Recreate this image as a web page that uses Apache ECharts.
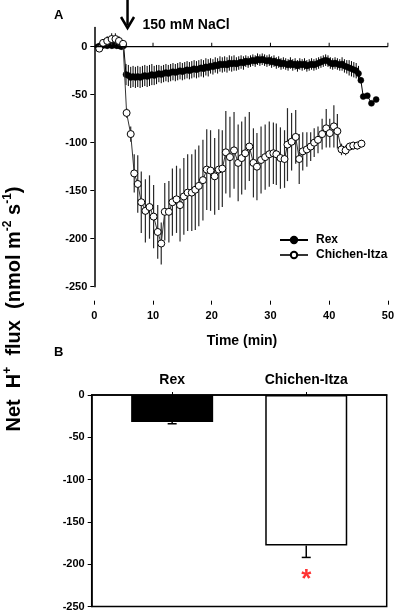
<!DOCTYPE html>
<html>
<head>
<meta charset="utf-8">
<script src="https://cdn.jsdelivr.net/npm/echarts@6/dist/echarts.min.js"></script>
<style>html,body{margin:0;padding:0;background:#fff;}#c{width:397px;height:612px;}</style>
</head>
<body>
<div id="c"></div>
<script>
// ---------- Panel A data ----------
const timeTicks = [0, 10, 20, 30, 40, 50];
const fluxTicksA = [-250, -200, -150, -100, -50, 0];

const rexTime = [0.6,1.0,1.4,1.8,2.2,2.6,3.0,3.4,3.8,4.2,4.6,5.0,5.4,
 5.8,6.2,6.6,7.0,7.4,7.8,8.2,8.6,9.0,9.4,9.8,10.2,10.6,11.0,11.4,11.8,12.2,12.6,13.0,13.4,13.8,14.2,14.6,15.0,15.4,15.8,
 16.2,16.6,17.0,17.4,17.8,18.2,18.6,19.0,19.4,19.8,20.2,20.6,21.0,21.4,21.8,22.2,22.6,23.0,23.4,23.8,24.2,24.6,25.0,25.4,
 25.8,26.2,26.6,27.0,27.4,27.8,28.2,28.6,29.0,29.4,29.8,30.2,30.6,31.0,31.4,31.8,32.2,32.6,33.0,33.4,33.8,34.2,34.6,35.0,
 35.4,35.8,36.2,36.6,37.0,37.4,37.8,38.2,38.6,39.0,39.4,39.8,40.2,40.6,41.0,41.4,41.8,42.2,42.6,43.0,43.4,43.8,44.2,44.6,
 45.0,45.4,45.8,46.5,47.2,48.0];
const rexFlux = [0,1,1,2,1,2,1,2,1,1,0,1,-29,
 -30,-32,-31,-32,-31,-32,-31,-30,-31,-30,-29,-30,-29,-28,-29,-28,-27,-28,-27,-26,-27,-26,-25,-26,-25,-24,
 -25,-24,-23,-24,-23,-22,-23,-21,-22,-20,-21,-19,-20,-18,-19,-18,-19,-17,-18,-17,-18,-17,-16,-17,
 -15,-16,-15,-14,-15,-13,-14,-13,-14,-15,-14,-16,-15,-17,-16,-18,-17,-18,-19,-17,-19,-18,-20,-18,
 -19,-18,-20,-19,-18,-19,-18,-17,-16,-15,-14,-15,-17,-18,-17,-18,-19,-18,-20,-21,-22,-23,-24,-25,
 -28,-35,-52,-51,-59,-55];
const rexErr = [3,3,3,3,3,3,3,3,3,3,3,3,11,
 11,11,11,11,11,11,11,11,11,11,11,10,10,9,9,9,9,9,9,9,9,9,9,9,9,9,
 9,9,9,9,9,9,9,9,9,8,8,8,8,8,8,8,8,8,8,8,7,7,7,7,
 6,6,6,6,6,6,6,6,6,6,6,6,6,6,6,6,6,6,6,6,6,6,6,6,
 6,6,6,6,6,6,6,6,6,6,6,6,6,6,6,6,6,7,7,7,8,8,8,8,
 8,3,2,2,2,2];

const chiTime = [0.85,1.5,2.2,2.95,3.6,4.2,4.9,5.5,6.2,6.8,7.4,8.0,8.7,9.4,10.1,10.8,11.4,12.0,12.7,13.3,14.0,14.6,15.25,15.9,
 16.6,17.2,17.8,18.5,19.15,19.8,20.5,21.2,21.8,22.4,23.1,23.8,24.5,25.1,25.7,26.4,27.1,27.7,28.4,29.1,29.8,30.5,31.0,31.7,
 32.4,32.9,33.6,34.3,34.9,35.5,36.2,36.85,37.45,38.1,38.8,39.5,40.1,40.8,41.4,42.1,42.8,43.5,44.1,44.8,45.5];
const chiFlux = [-2,4,6,8,8,6,3,-69,-91,-132,-143,-162,-171,-167,-177,-193,-205,-172,-172,-162,-159,-165,-156,-152,
 -152,-149,-145,-139,-128,-129,-135,-128,-127,-110,-115,-108,-121,-116,-111,-104,-121,-125,-118,-115,-112,-111,-112,-116,
 -117,-102,-99,-94,-117,-109,-107,-104,-100,-97,-91,-85,-90,-83,-88,-107,-108,-104,-103,-103,-101];
const chiErr = [3,4,5,6,6,5,3,5,8,20,30,32,33,33,33,28,22,30,32,35,35,38,40,40,
 40,42,42,42,42,42,40,42,40,43,42,40,40,38,38,36,36,35,35,34,34,32,32,32,
 30,38,30,28,26,20,18,15,15,14,16,20,15,22,18,6,5,4,4,4,4];

// ---------- Panel B data ----------
const groups = ['Rex', 'Chichen-Itza'];
const meanFlux = [-32, -178];
const meanErr = [2, 14];
const fluxTicksB = [-250, -200, -150, -100, -50, 0];

const FONT = '"Liberation Sans", Arial, sans-serif';
const lbl = {fontFamily: FONT, fontWeight: 'bold', fontSize: 11, color: '#000'};

const rexData = rexTime.map((t, i) => [t, rexFlux[i]]);
const chiData = chiTime.map((t, i) => [t, chiFlux[i]]);
const rexErrData = rexTime.map((t, i) => [t, rexFlux[i] - rexErr[i], rexFlux[i] + rexErr[i]]);
const chiErrData = chiTime.map((t, i) => [t, chiFlux[i] - chiErr[i], chiFlux[i] + chiErr[i]]);

function errRender(color, w) {
  return function (params, api) {
    const p1 = api.coord([api.value(0), api.value(1)]);
    const p2 = api.coord([api.value(0), api.value(2)]);
    return {type: 'line', shape: {x1: p1[0], y1: p1[1], x2: p2[0], y2: p2[1]},
      style: {stroke: color, lineWidth: w}};
  };
}

const barPos = [3, 8]; // positions of the two groups on the panel-B x scale (0..11)
const barData = groups.map((g, i) => [barPos[i], meanFlux[i]]);
const barErrData = groups.map((g, i) => [barPos[i], meanFlux[i], meanFlux[i] - meanErr[i]]);

const option = {
  animation: false,
  grid: [
    {left: 94.3, right: 7.7, top: 27.5, bottom: 325.3},
    {left: 91.7, right: 10.3, top: 395, bottom: 5, show: true, borderColor: '#000', borderWidth: 1.5}
  ],
  xAxis: [
    {gridIndex: 0, type: 'value', min: 0, max: 50, interval: 10, position: 'bottom', offset: 14,
      axisLine: {show: false, onZero: false}, axisTick: {show: true, length: 4, lineStyle: {color: '#000', width: 1}},
      axisLabel: Object.assign({margin: 10}, lbl), splitLine: {show: false}},
    {gridIndex: 1, type: 'value', min: 0, max: 11, position: 'top',
      axisLine: {show: true, onZero: false, lineStyle: {color: '#000', width: 1.5}},
      axisTick: {show: true, length: 3, customValues: barPos, lineStyle: {color: '#000'}},
      axisLabel: Object.assign({}, lbl, {fontSize: 14, margin: 8, customValues: barPos,
        formatter: v => groups[barPos.indexOf(v)] || ''}),
      splitLine: {show: false}}
  ],
  yAxis: [
    {gridIndex: 0, type: 'value', min: -250, max: 20, interval: 50,
      axisLine: {show: true, onZero: false, lineStyle: {color: '#000', width: 1.5}},
      axisTick: {show: true, length: 4, customValues: fluxTicksA, lineStyle: {color: '#000'}},
      axisLabel: Object.assign({margin: 7, customValues: fluxTicksA}, lbl), splitLine: {show: false}},
    {gridIndex: 1, type: 'value', min: -250, max: 0, interval: 50,
      axisLine: {show: true, onZero: false, lineStyle: {color: '#000', width: 1.5}},
      axisTick: {show: true, length: 4, lineStyle: {color: '#000'}},
      axisLabel: Object.assign({margin: 7}, lbl), splitLine: {show: false}}
  ],
  legend: {
    data: ['Rex', 'Chichen-Itza'], orient: 'vertical', left: 274, top: 229,
    itemWidth: 28, itemHeight: 8, itemGap: 3,
    textStyle: Object.assign({}, lbl, {fontSize: 12, padding: [0, 0, 0, 3]})
  },
  series: [
    {name: 'rexErr', type: 'custom', xAxisIndex: 0, yAxisIndex: 0, renderItem: errRender('#000', 1),
      data: rexErrData, encode: {x: 0, y: [1, 2]}, z: 2},
    {name: 'Rex', type: 'line', xAxisIndex: 0, yAxisIndex: 0, data: rexData,
      symbol: 'circle', symbolSize: 6, showAllSymbol: true,
      lineStyle: {color: '#000', width: 1}, itemStyle: {color: '#000', borderColor: '#000', borderWidth: 0.5}, z: 3},
    {name: 'chiErr', type: 'custom', xAxisIndex: 0, yAxisIndex: 0, renderItem: errRender('#2a2a2a', 1.2),
      data: chiErrData, encode: {x: 0, y: [1, 2]}, z: 4},
    {name: 'Chichen-Itza', type: 'line', xAxisIndex: 0, yAxisIndex: 0, data: chiData,
      symbol: 'circle', symbolSize: 7, showAllSymbol: true,
      lineStyle: {color: '#333', width: 1}, itemStyle: {color: '#fff', borderColor: '#000', borderWidth: 1}, z: 5},
    {name: 'means', type: 'bar', xAxisIndex: 1, yAxisIndex: 1, barWidth: 82,
      data: barData.map((d, i) => ({value: d, itemStyle: {color: i === 0 ? '#000' : '#fff', borderColor: '#000', borderWidth: 1.5}})),
      z: 2},
    {name: 'meanErr', type: 'custom', xAxisIndex: 1, yAxisIndex: 1, data: barErrData, z: 3,
      renderItem: function (params, api) {
        const p1 = api.coord([api.value(0), api.value(1)]);
        const p2 = api.coord([api.value(0), api.value(2)]);
        return {type: 'group', children: [
          {type: 'line', shape: {x1: p1[0], y1: p1[1], x2: p2[0], y2: p2[1]}, style: {stroke: '#000', lineWidth: 1.5}},
          {type: 'line', shape: {x1: p2[0] - 4.5, y1: p2[1], x2: p2[0] + 4.5, y2: p2[1]}, style: {stroke: '#000', lineWidth: 1.5}}
        ]};
      }},
    {name: 'sig', type: 'scatter', xAxisIndex: 1, yAxisIndex: 1, data: [[barPos[1], -218]],
      symbolSize: 1, itemStyle: {color: 'transparent'},
      label: {show: true, position: 'inside', formatter: '*', color: '#ff0000', fontFamily: FONT, fontWeight: 'bold', fontSize: 26}}
  ]
};

const chart = echarts.init(document.getElementById('c'), null, {renderer: 'canvas'});
chart.setOption(option);

// zero baseline of panel A with upward ticks, positioned through the panel-A scales, on its own top layer
const z0 = chart.convertToPixel({seriesIndex: 1}, [timeTicks[0], 0]);
const z1 = chart.convertToPixel({seriesIndex: 1}, [timeTicks[timeTicks.length - 1], 0]);
const zeroGraphics = [{type: 'rect', zlevel: 5, z: 1000, silent: true,
  shape: {x: z0[0], y: z0[1] - 0.6, width: z1[0] - z0[0], height: 1.2}, style: {fill: '#000'}}];
timeTicks.slice(1).forEach(t => {
  const p = chart.convertToPixel({seriesIndex: 1}, [t, 0]);
  zeroGraphics.push({type: 'rect', zlevel: 5, z: 1000, silent: true,
    shape: {x: p[0] - 0.5, y: p[1] - 4, width: 1, height: 4}, style: {fill: '#000'}});
});

const arrowX = chart.convertToPixel({xAxisIndex: 0}, 5.66);
chart.setOption({
  graphic: zeroGraphics.concat([
    {type: 'text', left: 54, top: 9, style: {text: 'A', font: 'bold 13px ' + FONT, fill: '#000'}},
    {type: 'text', left: 54, top: 346, style: {text: 'B', font: 'bold 13px ' + FONT, fill: '#000'}},
    {type: 'line', shape: {x1: arrowX, y1: 0, x2: arrowX, y2: 25}, style: {stroke: '#000', lineWidth: 2.5}},
    {type: 'polyline', shape: {points: [[arrowX - 6.5, 17], [arrowX, 28], [arrowX + 6.5, 17]]}, style: {stroke: '#000', lineWidth: 2.5, fill: null}},
    {type: 'text', x: arrowX + 15, y: 25, style: {text: '150 mM NaCl', font: 'bold 14px ' + FONT, fill: '#000', textVerticalAlign: 'middle'}},
    {type: 'text', x: 242, y: 341, style: {text: 'Time (min)', font: 'bold 14px ' + FONT, fill: '#000', textAlign: 'center', textVerticalAlign: 'middle'}},
    {type: 'text', x: 13, y: 309, rotation: Math.PI / 2,
      style: {
        text: '{b|Net  H}{s|+}{b|  flux  (nmol m}{s|-2}{b| s}{s|-1}{b|)}',
        textAlign: 'center', textVerticalAlign: 'middle',
        rich: {
          b: {fontFamily: FONT, fontWeight: 'bold', fontSize: 20, lineHeight: 22, fill: '#000', verticalAlign: 'bottom'},
          s: {fontFamily: FONT, fontWeight: 'bold', fontSize: 12, lineHeight: 22, fill: '#000', verticalAlign: 'top'}
        }
      }}
  ])
});
</script>
</body>
</html>
